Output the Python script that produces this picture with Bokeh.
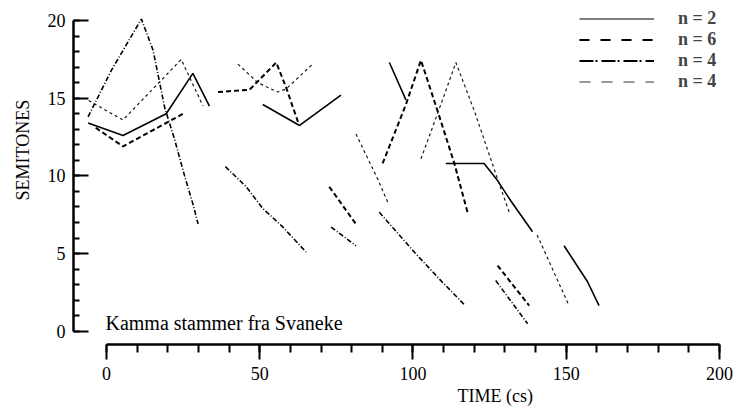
from bokeh.plotting import figure
from bokeh.models import Range1d, SingleIntervalTicker, Legend, LegendItem, Title
from bokeh.core.properties import value
from bokeh.embed import file_html
from bokeh.resources import INLINE

nan = float("nan")

# ---- data (time in cs, pitch in semitones); NaN separates segments ----
solid_t = [-6.0, 5.4, 19.5, 28.2, 33.6, nan, 51.0, 63.0, 76.5, nan, 92.3, 97.7, nan,
           110.7, 123.2, 127.6, 131.9, 139.0, nan, 149.3, 156.9, 160.7]
solid_v = [13.4, 12.6, 14.0, 16.6, 14.5, nan, 14.6, 13.25, 15.2, nan, 17.3, 14.9, nan,
           10.8, 10.8, 9.7, 8.4, 6.4, nan, 5.5, 3.2, 1.65]

dashed_t = [-3.5, 5.4, 25.0, nan, 36.4, 46.7, 55.4, 58.6, 62.8, nan, 72.7, 81.4, nan,
            90.1, 97.7, 102.6, 108.0, 113.5, 117.8, nan, 127.6, 137.9]
dashed_v = [13.1, 11.9, 14.0, nan, 15.4, 15.55, 17.3, 15.7, 13.3, nan, 9.3, 6.9, nan,
            10.8, 14.6, 17.45, 14.2, 10.8, 7.66, nan, 4.23, 1.65]

dashdot_t = [-6.0, 1.6, 11.4, 15.2, 19.0, 22.3, 25.5, 28.2, 29.9, nan,
             38.8, 45.6, 51.0, 57.6, 65.1, nan, 73.3, 81.4, nan,
             89.0, 100.4, 109.1, 116.7, nan, 127.0, 137.4]
dashdot_v = [13.8, 16.8, 20.1, 18.1, 14.4, 12.3, 10.0, 8.2, 6.9, nan,
             10.6, 9.3, 7.9, 6.7, 5.1, nan, 6.7, 5.5, nan,
             7.66, 5.1, 3.26, 1.72, nan, 3.26, 0.48]

thin_t = [-5.8, 5.4, 24.4, 31.5, nan, 42.9, 49.4, 55.9, 58.6, 67.3, nan,
          81.4, 88.5, 91.8, nan, 102.6, 108.0, 114.0, 120.0, 127.6, 131.4, nan, 140.5, 150.9]
thin_v = [14.85, 13.6, 17.5, 14.5, nan, 17.2, 16.0, 15.4, 15.6, 17.2, nan,
          12.7, 9.8, 8.3, nan, 11.1, 14.0, 17.3, 14.2, 9.8, 7.66, nan, 6.2, 1.65]

legend_labels = ["n = 2", "n = 6", "n = 4", "n = 4"]
caption_text = ["Kamma stammer fra Svaneke"]
caption_t = [0]
caption_v = [0.52]
x_ticks_interval = 50
y_ticks_interval = 5
x_bounds = (0, 200)
y_bounds = (0, 20)

SERIF = "Liberation Serif"

p = figure(width=736, height=411,
           x_range=Range1d(-10.75, 200.98), y_range=Range1d(-0.856, 20.78),
           output_backend="svg", toolbar_location=None,
           min_border_left=72, min_border_right=14, min_border_top=8, min_border_bottom=67)
p.grid.visible = False
p.outline_line_color = None
p.background_fill_color = "white"

# axes
p.xaxis.bounds = x_bounds
p.xaxis.ticker = SingleIntervalTicker(interval=x_ticks_interval, num_minor_ticks=5)
p.xaxis.major_tick_in = 0
p.xaxis.major_tick_out = 15
p.xaxis.minor_tick_in = 0
p.xaxis.minor_tick_out = 8
p.xaxis.major_label_standoff = 7

p.yaxis.bounds = y_bounds
p.yaxis.ticker = SingleIntervalTicker(interval=y_ticks_interval, num_minor_ticks=5)
p.yaxis.major_tick_in = 15
p.yaxis.major_tick_out = 0
p.yaxis.minor_tick_in = 6
p.yaxis.minor_tick_out = 0
p.yaxis.major_label_standoff = 8

for ax in (p.xaxis, p.yaxis):
    ax.axis_line_width = 2.5
    ax.axis_line_color = "black"
    ax.major_tick_line_width = 2
    ax.minor_tick_line_width = 2
    ax.major_tick_line_color = "black"
    ax.minor_tick_line_color = "black"
    ax.major_label_text_font = SERIF
    ax.major_label_text_font_size = "18px"
    ax.major_label_text_color = "black"

# axis titles (placed off-centre, as in the reference)
p.add_layout(Title(text="TIME (cs)", align="left", offset=384, standoff=2,
                   text_font=SERIF, text_font_size="18px", text_font_style="normal",
                   text_color="black"), "below")
p.add_layout(Title(text="SEMITONES", align="left", offset=144, standoff=22,
                   vertical_align="middle",
                   text_font=SERIF, text_font_size="18px", text_font_style="normal",
                   text_color="black"), "left")

# data lines
p.line(solid_t, solid_v, line_color="black", line_width=1.6)
p.line(dashed_t, dashed_v, line_color="black", line_width=2, line_dash="5 3")
p.line(dashdot_t, dashdot_v, line_color="black", line_width=1.6, line_dash="5 2 1 2")
p.line(thin_t, thin_v, line_color="#1a1a1a", line_width=1.2, line_dash="3 3")

# legend-only renderers (legend dash patterns are longer than those in the data)
lg1 = p.line([nan], [nan], line_color="black", line_width=1.2)
lg2 = p.line([nan], [nan], line_color="black", line_width=2, line_dash="10 11")
lg3 = p.line([nan], [nan], line_color="black", line_width=2, line_dash="14 2 2 4")
lg4 = p.line([nan], [nan], line_color="#333333", line_width=1, line_dash="11 11")

legend = Legend(items=[LegendItem(label=legend_labels[i], renderers=[r])
                       for i, r in enumerate([lg1, lg2, lg3, lg4])],
                location=(506, 252), orientation="vertical",
                glyph_width=75, glyph_height=21, label_height=21, spacing=0,
                padding=0, label_standoff=24,
                label_text_font=SERIF, label_text_font_style="bold",
                label_text_font_size="18px",
                background_fill_alpha=0, border_line_alpha=0)
p.add_layout(legend, "center")

# caption inside the frame
p.text(x=caption_t, y=caption_v, text=caption_text, x_offset=-1,
       text_font=value(SERIF), text_font_size="20px", text_color="black",
       text_baseline="alphabetic", text_align="left")

open("out.html", "w").write(file_html(p, INLINE))
